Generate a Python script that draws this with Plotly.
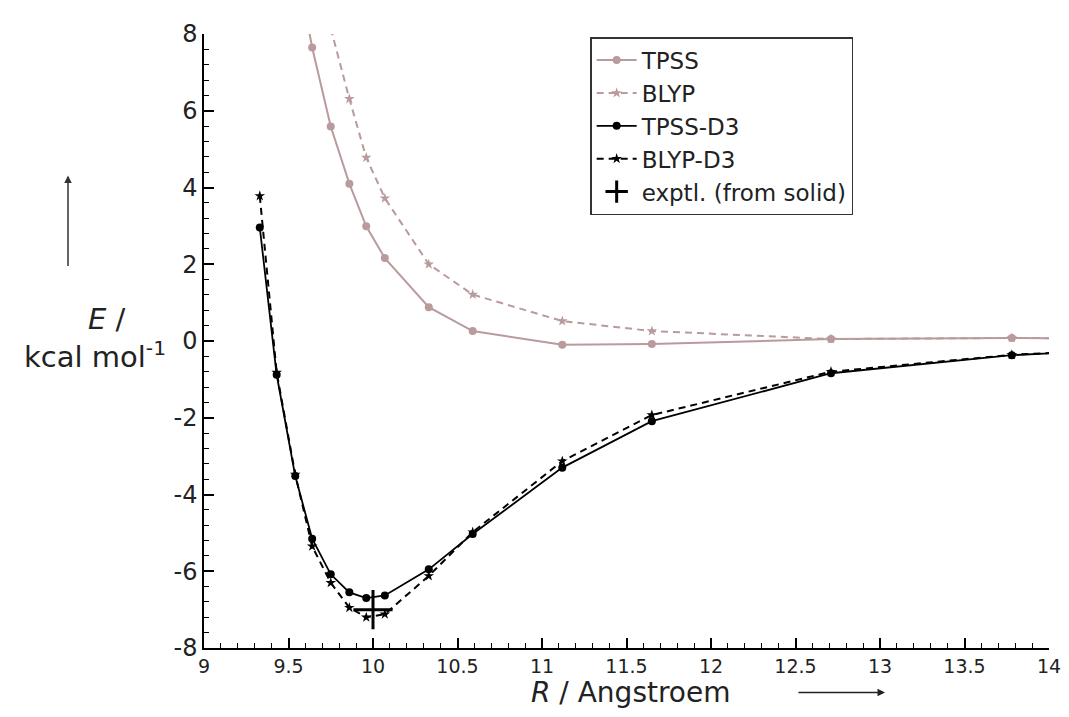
import plotly.graph_objects as go

R = [9.33, 9.43, 9.54, 9.64, 9.75, 9.86, 9.96, 10.07, 10.33, 10.59, 11.12, 11.65, 12.71, 13.78, 14.85]
tpss = [None, None, 10.0, 7.65, 5.59, 4.10, 2.99, 2.16, 0.88, 0.26, -0.10, -0.08, 0.05, 0.08, 0.05]
blyp = [None, None, None, 10.6, 8.15, 6.31, 4.78, 3.72, 2.00, 1.21, 0.52, 0.26, 0.05, 0.08, 0.05]
tpss_d3 = [2.96, -0.88, -3.52, -5.15, -6.08, -6.55, -6.70, -6.63, -5.95, -5.03, -3.30, -2.09, -0.84, -0.37, -0.13]
blyp_d3 = [3.78, -0.82, -3.48, -5.35, -6.30, -6.95, -7.20, -7.12, -6.12, -4.98, -3.13, -1.93, -0.80, -0.36, -0.13]
expt_R = [10.0]
expt_E = [-7.0]

y_tickvals = [-8, -6, -4, -2, 0, 2, 4, 6, 8]
y_ticktext = ["-8", "-6", "-4", "-2", "0", "2", "4", "6", "8"]

PINK = "#b99a9d"
FONT = "DejaVu Sans, Liberation Sans, Arial, sans-serif"
TXT = "#222"

fig = go.Figure()
fig.add_trace(go.Scatter(x=R, y=tpss, name="TPSS", mode="lines+markers",
                         line=dict(color=PINK, width=2),
                         marker=dict(symbol="circle", size=8, color=PINK)))
fig.add_trace(go.Scatter(x=R, y=blyp, name="BLYP", mode="lines+markers",
                         line=dict(color=PINK, width=2, dash="7px,5px"),
                         marker=dict(symbol="star", size=8, color=PINK)))
fig.add_trace(go.Scatter(x=R, y=tpss_d3, name="TPSS-D3", mode="lines+markers",
                         line=dict(color="black", width=1.8),
                         marker=dict(symbol="circle", size=8, color="black")))
fig.add_trace(go.Scatter(x=R, y=blyp_d3, name="BLYP-D3", mode="lines+markers",
                         line=dict(color="black", width=2, dash="7px,5px"),
                         marker=dict(symbol="star", size=8, color="black")))
fig.add_trace(go.Scatter(x=expt_R, y=expt_E, name="exptl. (from solid)", mode="markers",
                         marker=dict(symbol="cross-thin", size=28,
                                     line=dict(color="black", width=3), color="black")))

axis_common = dict(showgrid=False, zeroline=False, showline=True, linecolor="black",
                   linewidth=1.5, mirror=False, ticks="inside", tickcolor="black",
                   tickwidth=1.5, ticklen=10)

fig.update_xaxes(range=[9, 14], dtick=0.5, tick0=9, **axis_common,
                 tickfont=dict(family=FONT, size=19, color=TXT),
                 minor=dict(dtick=0.1, ticks="inside", ticklen=5, tickcolor="black", tickwidth=1.2))
fig.update_yaxes(range=[-8, 8], tickvals=y_tickvals, ticktext=y_ticktext, **axis_common,
                 tickfont=dict(family=FONT, size=24, color=TXT),
                 minor=dict(dtick=0.4, ticks="inside", ticklen=5, tickcolor="black", tickwidth=1.2))

fig.update_layout(
    width=1069, height=717,
    margin=dict(l=196, r=28, t=19, b=77),
    paper_bgcolor="white", plot_bgcolor="white",
    font=dict(family=FONT, color=TXT),
    showlegend=True,
    legend=dict(x=0.457, y=0.995, xanchor="left", yanchor="top",
                bgcolor="white", bordercolor="#333", borderwidth=1.5,
                font=dict(family=FONT, size=23, color=TXT),
                tracegroupgap=0, itemwidth=40),
    annotations=[
        dict(text="<i>R</i> / Angstroem", x=(630 - 204) / 845, y=(648 - 693) / 621,
             xref="paper", yref="paper", xanchor="center", yanchor="middle", showarrow=False,
             font=dict(family=FONT, size=28, color=TXT)),
        dict(text="", x=(885 - 204) / 845, y=(648 - 693) / 621, xref="paper", yref="paper",
             ax=-88, ay=0, showarrow=True, arrowhead=2, arrowsize=1, arrowwidth=1.5,
             arrowcolor=TXT),
        dict(text="<i>E</i> /", x=(107 - 204) / 845, y=(648 - 315) / 621, xref="paper", yref="paper",
             xanchor="center", yanchor="middle", showarrow=False,
             font=dict(family=FONT, size=29, color=TXT)),
        dict(text="kcal mol<sup>-1</sup>", x=(95 - 204) / 845, y=(648 - 352) / 621,
             xref="paper", yref="paper", xanchor="center", yanchor="middle", showarrow=False,
             font=dict(family=FONT, size=29, color=TXT)),
        dict(text="", x=(68 - 204) / 845, y=(648 - 170) / 621, xref="paper", yref="paper",
             ax=0, ay=92, showarrow=True, arrowhead=2, arrowsize=1, arrowwidth=1.5,
             arrowcolor="#333"),
    ],
)

fig.write_html("out.html")
